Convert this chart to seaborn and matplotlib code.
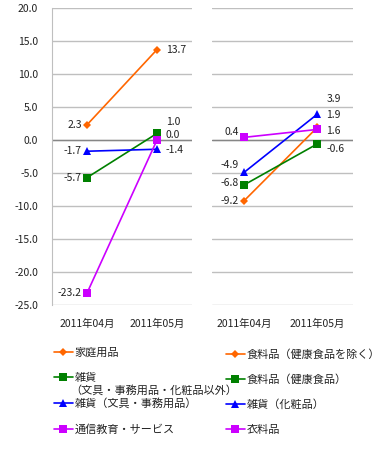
import numpy as np
import pandas as pd
import matplotlib as mpl
mpl.use("Agg")
import matplotlib.pyplot as plt
import seaborn as sns

sns.set_style("white")
plt.rcParams['font.family'] = ['Noto Sans CJK JP', 'DejaVu Sans']

# data
months = ['2011年04月', '2011年05月']

left_names = ['家庭用品', '雑貨', '雑貨（文具・事務用品）', '通信教育・サービス']
left_sub = ['', '（文具・事務用品・化粧品以外）', '', '']
left_vals = [[2.3, 13.7], [-5.7, 1.0], [-1.7, -1.4], [-23.2, 0.0]]

right_names = ['食料品（健康食品を除く）', '食料品（健康食品）', '雑貨（化粧品）', '衣料品']
right_vals = [[-9.2, 1.9], [-6.8, -0.6], [-4.9, 3.9], [0.4, 1.6]]

colors = ['#FF6600', '#008000', '#0000FF', '#CC00FF']
markers = ['D', 's', '^', 's']
msizes = [4, 5.5, 5.5, 5.5]

# label vertical nudges in pixels, up is positive (04, 05)
left_nudge = [(0, 0), (0, 11), (0, -1), (0, 5)]
right_nudge = [(0, 12), (2, -5), (7, 15), (5, -2)]

# legend row positions (pixels from top)
left_rows = [353, 378, 403, 430]
right_rows = [355, 380, 405, 430]


def make_df(names, vals):
    rows = []
    for n, v in zip(names, vals):
        for m, y in zip(months, v):
            rows.append({'series': n, 'month': m, 'value': y})
    return pd.DataFrame(rows)


fig = plt.figure(figsize=(3.82, 4.5), dpi=100)
ax1 = fig.add_axes([52/382, 1-305/450, 140/382, 297/450])
ax2 = fig.add_axes([212/382, 1-305/450, 141/382, 297/450])

for ax, names, vals, nudge in [(ax1, left_names, left_vals, left_nudge),
                               (ax2, right_names, right_vals, right_nudge)]:
    df = make_df(names, vals)
    sns.lineplot(data=df, x='month', y='value', hue='series', style='series',
                 palette=dict(zip(names, colors)), markers=dict(zip(names, markers)),
                 dashes=False, ax=ax, linewidth=1.2, legend=False, sort=False,
                 markeredgewidth=0)
    for line, ms in zip(ax.get_lines(), msizes):
        line.set_markersize(ms)
    ax.set_ylim(-25, 20)
    ax.set_yticks(np.arange(-25, 21, 5))
    ax.yaxis.grid(True, color='#BFBFBF', linewidth=1)
    ax.axhline(0, color='#868686', linewidth=1, zorder=1)
    for s in ax.spines.values():
        s.set_visible(False)
    ax.set_xlabel('')
    ax.set_ylabel('')
    ax.tick_params(axis='both', length=0, labelsize=7.5, colors='#222222')
    ax.tick_params(axis='x', pad=10)
    ax.tick_params(axis='y', pad=10)
    for v, nd in zip(vals, nudge):
        ax.annotate(f'{v[0]:.1f}', (0, v[0]), xytext=(-5, nd[0]), textcoords='offset pixels',
                    ha='right', va='center', fontsize=7.5, color='#222222')
        ax.annotate(f'{v[1]:.1f}', (1, v[1]), xytext=(9, nd[1]), textcoords='offset pixels',
                    ha='left', va='center', fontsize=7.5, color='#222222')

ax1.set_xlim(-0.5, 1.5)
ax2.set_xlim(-0.44, 1.49)
ax1.spines['left'].set_visible(True)
ax1.spines['left'].set_color('#BFBFBF')
ax1.set_yticklabels([f'{t:.1f}' for t in np.arange(-25, 21, 5)])
ax2.set_yticklabels([])

# legends, one entry per row
kw = dict(frameon=False, fontsize=8, handlelength=1.7, handletextpad=0.15,
          borderaxespad=0, borderpad=0, labelcolor='#222222')

def add_entry(x, y, name, c, m, ms):
    h = plt.Line2D([], [], color=c, marker=m, markersize=ms, markeredgewidth=0, linewidth=1.2)
    fig.legend([h], [name], loc='center left', bbox_to_anchor=(x/382, 1-y/450), **kw)

for name, c, m, ms, y in zip(left_names, colors, markers, msizes, left_rows):
    add_entry(54, y, name, c, m, ms)
for sub, y in zip(left_sub, left_rows):
    if sub:
        fig.text(70/382, 1-(y+12)/450, sub, fontsize=8, color='#222222', va='center', ha='left')
for name, c, m, ms, y in zip(right_names, colors, markers, msizes, right_rows):
    add_entry(226, y, name, c, m, ms)

fig.savefig('out.png', dpi=100)
